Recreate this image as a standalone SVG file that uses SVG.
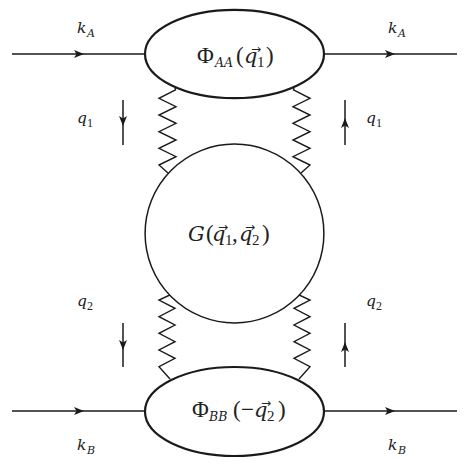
<svg xmlns="http://www.w3.org/2000/svg" width="467" height="464" viewBox="0 0 467 464" font-family="'Liberation Serif', 'Times New Roman', serif">
<style>
.bg{fill:#fff}
.ln{fill:none;stroke:#1a1a1a;stroke-width:1.5;stroke-linejoin:miter}
.arr{marker-mid:url(#ah)}
.zz{fill:none;stroke:#1a1a1a;stroke-width:1.4;stroke-linejoin:miter}
.blob{fill:#fff;stroke:#1a1a1a;stroke-width:2.2}
.circ{fill:#fff;stroke:#1a1a1a;stroke-width:1.5}
text{fill:#222}
.m{font-size:23px}
.i{font-style:italic;font-family:"DejaVu Serif",serif;font-size:21px}
.s{font-size:15px}
.si{font-style:italic;font-family:"DejaVu Serif",serif;font-size:12.5px}
.lab{font-size:15.5px;font-style:italic;font-family:"DejaVu Serif",serif}
.ls{font-size:11px;font-style:italic;font-family:"DejaVu Serif",serif}
.ln1{font-size:12px}
.vec{font-size:12px;text-anchor:middle;font-family:"DejaVu Sans",sans-serif}
</style>
<defs>
<marker id="ah" viewBox="0 0 10 8" refX="10" refY="4" markerWidth="10" markerHeight="8" markerUnits="userSpaceOnUse" orient="auto">
<path d="M0,0 L10,4 L0,8 L2.5,4 z" fill="#1a1a1a"/>
</marker>
</defs>
<rect class="bg" width="467" height="464"/>
<g id="connectors">
<path class="ln arr" d="M12,54 L84,54 L145,54"/>
<path class="ln arr" d="M324,54 L395,54 L457,54"/>
<path class="ln arr" d="M12,411 L84,411 L145,411"/>
<path class="ln arr" d="M324,411 L395,411 L457,411"/>
<path class="ln arr" d="M123,100 L123,126 L123,145"/>
<path class="ln arr" d="M345,145 L345,118 L345,100"/>
<path class="ln arr" d="M123,323 L123,350 L123,367"/>
<path class="ln arr" d="M345,367 L345,342 L345,323"/>
<path class="zz" d="M175,88 L175.5,90 L159,98.3 L176,106.7 L159,115 L176,123.3 L159,131.7 L176,140 L159,148.3 L176,156.7 L159,165 L168,173"/>
<path class="zz" d="M294,88 L293.5,90 L310,98.3 L293,106.7 L310,115 L293,123.3 L310,131.7 L293,140 L310,148.3 L293,156.7 L310,165 L301,173"/>
<path class="zz" d="M172,294 L159,300 L175,308.3 L159,316.7 L175,325 L159,333.3 L175,341.7 L159,350 L175,358.3 L159,366.7 L170,379"/>
<path class="zz" d="M297,294 L310,300 L294,308.3 L310,316.7 L294,325 L310,333.3 L294,341.7 L310,350 L294,358.3 L310,366.7 L299,379"/>
</g>
<g id="phiAA">
<ellipse class="blob" cx="234.5" cy="54" rx="89.5" ry="44.2"/>
<text class="m" y="63"><tspan x="197">Φ</tspan><tspan class="si" x="215" y="67">AA</tspan><tspan x="236" y="63">(</tspan><tspan class="i" x="244">q</tspan><tspan class="s" x="257" y="67">1</tspan><tspan x="266" y="63">)</tspan></text>
<text class="vec" x="256" y="53">→</text>
</g>
<g id="G">
<circle class="circ" cx="234.5" cy="233.5" r="89.4"/>
<text class="m" y="241"><tspan class="i" x="188">G</tspan><tspan x="206">(</tspan><tspan class="i" x="212">q</tspan><tspan class="s" x="225" y="245">1</tspan><tspan x="232" y="241">,</tspan><tspan class="i" x="239">q</tspan><tspan class="s" x="252" y="245">2</tspan><tspan x="262" y="241">)</tspan></text>
<text class="vec" x="223" y="231">→</text>
<text class="vec" x="250" y="231">→</text>
</g>
<g id="phiBB">
<ellipse class="blob" cx="234.5" cy="411.5" rx="89.5" ry="44.5"/>
<text class="m" y="417"><tspan x="192">Φ</tspan><tspan class="si" x="209" y="421">BB</tspan><tspan x="233" y="417">(</tspan><tspan x="241">−</tspan><tspan class="i" x="254">q</tspan><tspan class="s" x="267" y="421">2</tspan><tspan x="278" y="417">)</tspan></text>
<text class="vec" x="266" y="407">→</text>
</g>
<g id="labels">
<text x="77" y="33"><tspan class="lab">k</tspan><tspan class="ls" x="87" y="37">A</tspan></text>
<text x="388" y="33"><tspan class="lab">k</tspan><tspan class="ls" x="398" y="37">A</tspan></text>
<text x="77" y="450"><tspan class="lab">k</tspan><tspan class="ls" x="87" y="454">B</tspan></text>
<text x="388" y="450"><tspan class="lab">k</tspan><tspan class="ls" x="398" y="454">B</tspan></text>
<text x="77" y="123"><tspan class="lab">q</tspan><tspan class="ln1" x="87" y="127">1</tspan></text>
<text x="366" y="123"><tspan class="lab">q</tspan><tspan class="ln1" x="376" y="127">1</tspan></text>
<text x="77" y="306"><tspan class="lab">q</tspan><tspan class="ln1" x="87" y="310">2</tspan></text>
<text x="366" y="306"><tspan class="lab">q</tspan><tspan class="ln1" x="376" y="310">2</tspan></text>
</g>
</svg>
